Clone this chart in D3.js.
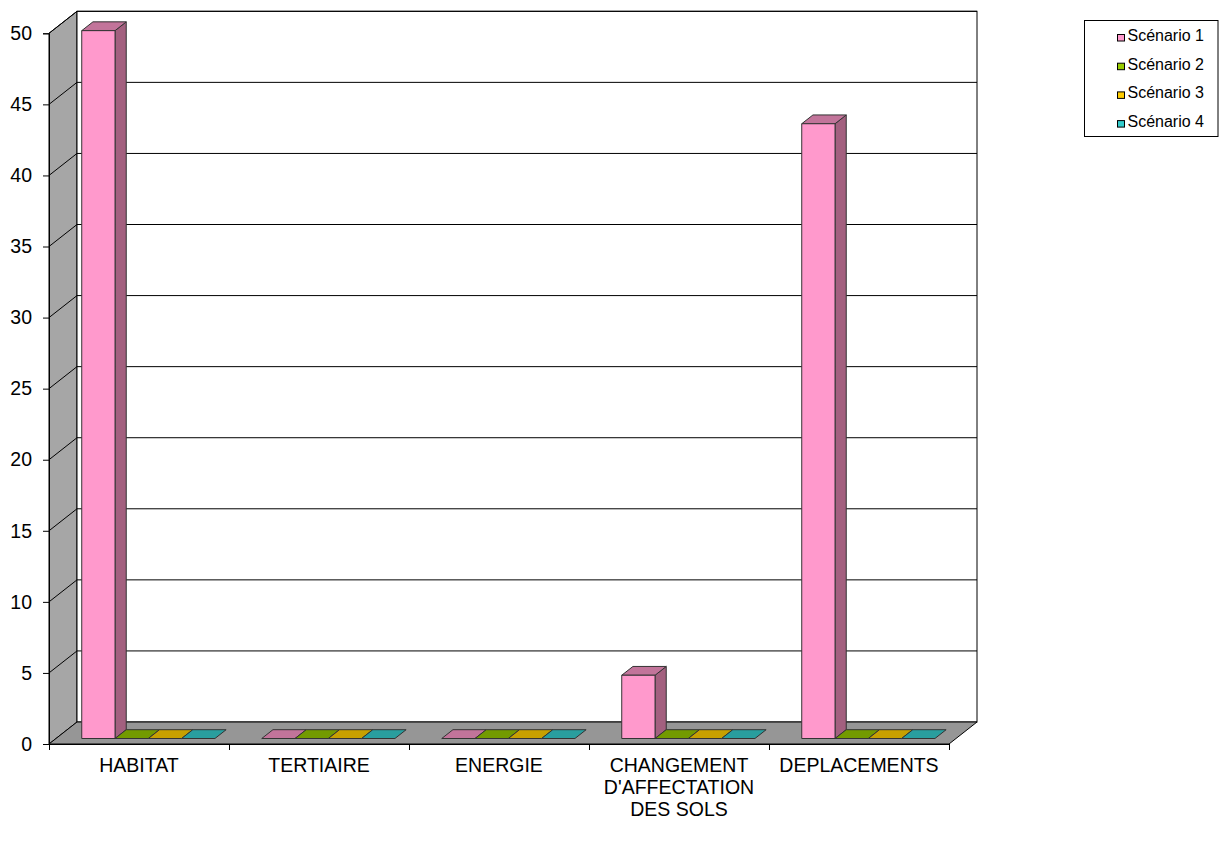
<!DOCTYPE html>
<html><head><meta charset="utf-8">
<script src="https://cdn.jsdelivr.net/npm/d3@7"></script>
<style>body{margin:0;background:#fff}svg{display:block;font-family:"Liberation Sans",Arial,sans-serif}</style>
</head><body>
<svg id="c" width="1220" height="841"></svg>
<script>
const categories = ["HABITAT", "TERTIAIRE", "ENERGIE", "CHANGEMENT\nD'AFFECTATION\nDES SOLS", "DEPLACEMENTS"];
const seriesNames = ["Scénario 1", "Scénario 2", "Scénario 3", "Scénario 4"];
const scenario1 = [49.8, 0, 0, 4.45, 43.25];
const scenario2 = [0, 0, 0, 0, 0];
const scenario3 = [0, 0, 0, 0, 0];
const scenario4 = [0, 0, 0, 0, 0];
const yTicks = [0, 5, 10, 15, 20, 25, 30, 35, 40, 45, 50];
const seriesValues = [scenario1, scenario2, scenario3, scenario4];

const front = ["#FF99CC", "#99CC00", "#FFCC00", "#33CCCC"];
const side  = ["#A3607F", "#5F8000", "#A08000", "#208080"];
const top_  = ["#C2749A", "#739A00", "#C8A000", "#299E9E"];

const svg = d3.select("#c");
const L = 49, R = 949, Y0 = 744;
const DX = 28, DY = -22;        // full depth of the plot box
const y = d3.scaleLinear().domain([0, 50]).range([Y0, 33.3]);
const x0 = d3.scaleBand().domain(d3.range(categories.length)).range([L, R]).padding(0);
const xi = d3.scaleLinear().domain([0, categories.length]).range([L, R]);
const bw = x0.bandwidth();
const x1 = d3.scaleBand().domain(d3.range(seriesNames.length)).range([bw * 0.143, bw * 0.883]).padding(0);
const bF = 0.25, bD = 0.40; // bar front depth fraction, bar depth fraction

const g = svg.append("g");
const pts = a => a.map(p => p.join(",")).join(" ");

// left side wall
g.append("polygon").attr("points", pts([[L, Y0], [L, y(50)], [L + DX, y(50) + DY], [L + DX, Y0 + DY]]))
  .attr("fill", "#A6A6A6").attr("stroke", "#000").attr("stroke-width", 1);
// back wall
g.append("rect").attr("x", L + DX).attr("y", y(50) + DY).attr("width", R - L).attr("height", Y0 - y(50))
  .attr("fill", "#fff").attr("stroke", "#000").attr("stroke-width", 1);
// gridlines
yTicks.filter(v => v > 0).forEach(v => {
  g.append("polyline").attr("points", pts([[L, y(v)], [L + DX, y(v) + DY], [R + DX, y(v) + DY]]))
    .attr("fill", "none").attr("stroke", "#000").attr("stroke-width", 1);
});
// floor
g.append("polygon").attr("points", pts([[L, Y0], [R, Y0], [R + DX, Y0 + DY], [L + DX, Y0 + DY]]))
  .attr("fill", "#969696").attr("stroke", "#000").attr("stroke-width", 1);

// bars
categories.forEach((c, ci) => {
  seriesNames.forEach((s, si) => {
    const v = seriesValues[si][ci];
    const fx = x0(ci) + x1(si) + DX * bF;
    const fy = DY * bF;
    const w = x1.bandwidth();
    const dx = DX * bD, dy = DY * bD;
    const yb = y(0) + fy, yt = y(v) + fy;
    const xl = fx, xr = fx + w;
    const bg = g.append("g").attr("stroke", "#333").attr("stroke-width", 1).attr("stroke-linejoin", "round");
    if (v > 0) {
      bg.append("polygon").attr("points", pts([[xr, yb], [xr, yt], [xr + dx, yt + dy], [xr + dx, yb + dy]])).attr("fill", side[si]);
    }
    bg.append("polygon").attr("points", pts([[xl, yt], [xr, yt], [xr + dx, yt + dy], [xl + dx, yt + dy]])).attr("fill", top_[si]);
    if (v > 0) {
      bg.append("rect").attr("x", xl).attr("y", yt).attr("width", w).attr("height", yb - yt).attr("fill", front[si]);
    }
  });
});

// y axis
const ya = svg.append("g").attr("transform", `translate(${L},0)`)
  .call(d3.axisLeft(y).tickValues(yTicks).tickSize(6).tickPadding(11).tickFormat(d3.format("d")));
ya.selectAll("text").attr("font-size", 19.5).attr("fill", "#000").attr("font-family", "Liberation Sans, Arial, sans-serif");
ya.selectAll("line,path").attr("stroke", "#000");

// x axis (category boundaries)
const xa = svg.append("g").attr("transform", `translate(0,${Y0})`)
  .call(d3.axisBottom(xi).tickValues(d3.range(categories.length + 1)).tickSize(6).tickFormat(""));
xa.selectAll("line,path").attr("stroke", "#000");

// category labels
categories.forEach((c, ci) => {
  const t = svg.append("text").attr("text-anchor", "middle").attr("font-size", 19.5).attr("fill", "#000");
  c.split("\n").forEach((line, li) => {
    t.append("tspan").attr("x", x0(ci) + bw / 2).attr("y", 772 + li * 22).text(line);
  });
});

// legend
const lg = svg.append("g");
lg.append("rect").attr("x", 1084.5).attr("y", 20.5).attr("width", 133.5).attr("height", 116)
  .attr("fill", "#fff").attr("stroke", "#000");
seriesNames.forEach((s, si) => {
  const base = 41 + si * 28.7;
  lg.append("rect").attr("x", 1117.5).attr("y", base - 6.5).attr("width", 7).attr("height", 6.5)
    .attr("fill", front[si]).attr("stroke", "#000").attr("stroke-width", 1);
  lg.append("text").attr("x", 1127.5).attr("y", base).attr("font-size", 16).attr("fill", "#000").text(s);
});
</script>
</body></html>
